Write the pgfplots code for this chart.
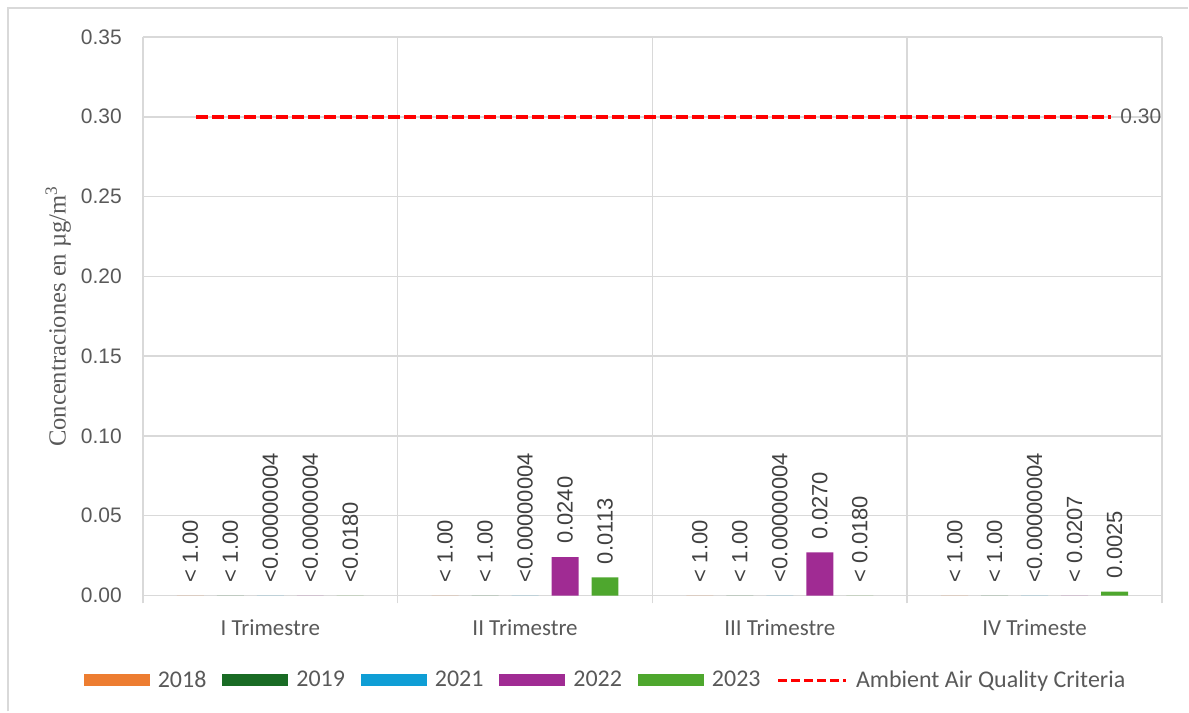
\documentclass[border=0pt]{standalone}
\usepackage{graphicx}
\usepackage{pgfplots}
\pgfplotsset{compat=1.18}
\usepackage{fontspec}
\setmainfont{Liberation Sans}
\newfontfamily\carlito{Carlito}
\newfontfamily\lserif{Liberation Serif}
\definecolor{c2018}{HTML}{ED7D31}
\definecolor{c2019}{HTML}{196B24}
\definecolor{c2021}{HTML}{0F9ED5}
\definecolor{c2022}{HTML}{A02B93}
\definecolor{c2023}{HTML}{4EA72E}
\definecolor{gridgray}{HTML}{D9D9D9}
\definecolor{txtgray}{HTML}{595959}
\definecolor{lblgray}{HTML}{404040}
\pgfplotsset{
  mybar/.style 2 args={ybar, bar width=13.5pt, bar shift=#2, draw=none, fill=#1,
    point meta=explicit symbolic,
    nodes near coords={\rotatebox{90}{\pgfplotspointmeta}},
    every node near coord/.append style={anchor=south, xshift=#2, font=\fontsize{11}{13}\selectfont, text=lblgray, inner ysep=6.5pt, inner xsep=0pt},
    legend image code/.code={\path[fill=#1] (0pt,-3pt) rectangle (33pt,3pt);}},
}
\begin{document}
\begin{tikzpicture}[x=0.5pt,y=0.5pt]
% canvas: 1189 x 712 px, axis lower-left at (143,116) px from bottom-left
\path (-143,-116) rectangle (1046,596);
\draw[gridgray, line width=1pt] (-135,-116) -- (-135,588) -- (1046,588);
\begin{axis}[
  at={(0pt,0pt)}, anchor=south west,
  scale only axis,
  width=510pt, height=279.5pt,
  xmin=-0.5, xmax=3.5, ymin=0, ymax=0.35,
  axis line style={draw=none},
  xtick={0,1,2,3},
  xticklabels={I Trimestre, II Trimestre, III Trimestre, IV Trimeste},
  xtick pos=bottom,
  major x tick style={draw=none},
  extra x ticks={-0.5,0.5,1.5,2.5,3.5},
  extra x tick labels={},
  extra x tick style={grid=major, tick align=outside, major tick length=4pt,
     major x tick style={draw=gridgray, line width=0.75pt}},
  ytick={0,0.05,0.10,0.15,0.20,0.25,0.30,0.35},
  ymajorgrids,
  ytick pos=left,
  major y tick style={draw=none},
  grid style={gridgray, line width=0.75pt},
  yticklabel style={/pgf/number format/fixed, /pgf/number format/fixed zerofill,
     /pgf/number format/precision=2, font=\fontsize{10.5}{12}\selectfont, text=txtgray, xshift=-7pt},
  /pgf/number format/assume math mode=true,
  xticklabel style={font=\carlito\fontsize{11.5}{13}\selectfont, text=txtgray, yshift=-8.5pt},
  ylabel={Concentraciones en µg/m\textsuperscript{3}},
  ylabel style={font=\lserif\fontsize{12.3}{14}\selectfont, text=txtgray, at={(axis description cs:-0.083,0.5)}, anchor=center},
  legend columns=6,
  legend style={draw=none, fill=none, at={(axis description cs:0.455,-0.152)}, anchor=center,
     font=\carlito\fontsize{12}{14}\selectfont, text=txtgray,
     /tikz/every odd column/.append style={column sep=2pt},
     /tikz/every even column/.append style={column sep=6pt}},
]
\addplot[mybar={c2018}{-40pt}]
  coordinates {(0,0) [< 1.00] (1,0) [< 1.00] (2,0) [< 1.00] (3,0) [< 1.00]};
\addlegendentry{2018}
\addplot[mybar={c2019}{-20pt}]
  coordinates {(0,0) [< 1.00] (1,0) [< 1.00] (2,0) [< 1.00] (3,0) [< 1.00]};
\addlegendentry{2019}
\addplot[mybar={c2021}{0pt}]
  coordinates {(0,0) [<0.00000004] (1,0) [<0.00000004] (2,0) [<0.00000004] (3,0) [<0.00000004]};
\addlegendentry{2021}
\addplot[mybar={c2022}{20pt}]
  coordinates {(0,0) [<0.00000004] (1,0.0240) [0.0240] (2,0.0270) [0.0270] (3,0) [< 0.0207]};
\addlegendentry{2022}
\addplot[mybar={c2023}{40pt}]
  coordinates {(0,0) [<0.0180] (1,0.0113) [0.0113] (2,0) [< 0.0180] (3,0.0025) [0.0025]};
\addlegendentry{2023}
\addplot[sharp plot, red, line width=1.75pt, dash pattern=on 6pt off 2pt,
  legend image code/.code={\draw[red, line width=1.75pt, dash pattern=on 4.5pt off 2pt] (0pt,0pt) -- (34pt,0pt);}]
  coordinates {(-0.29,0.30) (3.30,0.30)};
\addlegendentry{Ambient Air Quality Criteria}
\node[anchor=west, font=\fontsize{10.5}{12}\selectfont, text=txtgray, inner sep=0pt, xshift=4.5pt] at (axis cs:3.30,0.30) {0.30};
\end{axis}
\end{tikzpicture}
\end{document}
